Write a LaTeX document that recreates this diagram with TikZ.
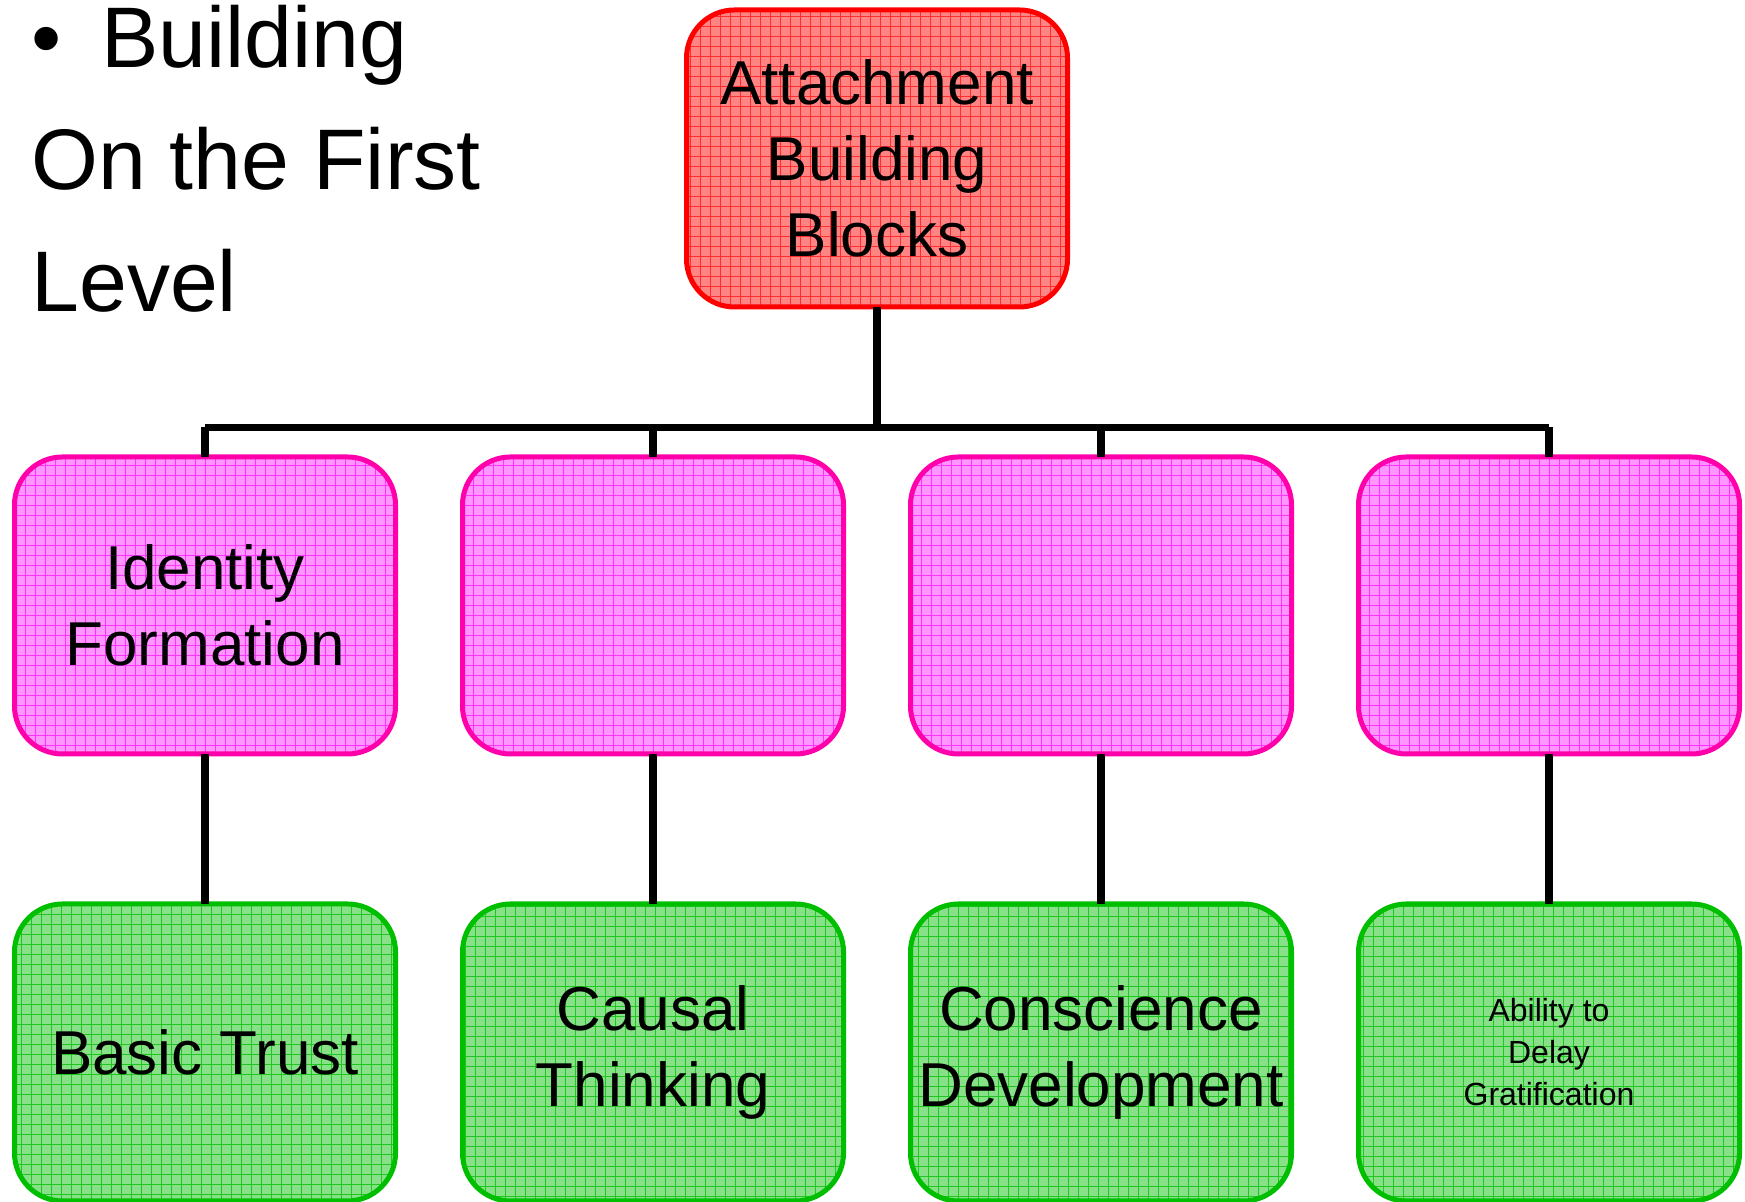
\documentclass[tikz,border=0pt]{standalone}
\usepackage{fontspec}
\setmainfont{Liberation Sans}
\usepackage{tikz}
\usetikzlibrary{shapes,arrows,fit,positioning}
\definecolor{topline}{RGB}{255,0,0}
\definecolor{topfill}{RGB}{255,132,132}
\definecolor{topgrid}{RGB}{255,45,45}
\definecolor{midline}{RGB}{255,0,170}
\definecolor{midfill}{RGB}{255,150,255}
\definecolor{midgrid}{RGB}{255,50,255}
\definecolor{lowline}{RGB}{0,190,0}
\definecolor{lowfill}{RGB}{136,224,136}
\definecolor{lowgrid}{RGB}{30,200,30}
\def\Top{Attachment\\ Building\\ Blocks}
\def\Delay{Ability to\\ Delay\\ Gratification}
\begin{document}
\begin{tikzpicture}[% styles for the whole chart
			every node/.style={
				align=center,		% so that "\\" breaks the line
				inner sep=0pt
			},
			box/.style={
				rectangle,rounded corners=24pt,line width=2.5pt,outer sep=0pt,
				minimum width=190.5pt,	% same size for every box
				minimum height=148.5pt,
				font=\fontsize{31pt}{38pt}\selectfont
			},
			gridfill/.style={path picture={
				\draw[#1,line width=0.4pt,step=5pt] (path picture bounding box.south west) grid (path picture bounding box.north east);}},
			topbox/.style={box,draw=topline,fill=topfill,gridfill=topgrid},
			midbox/.style={box,draw=midline,fill=midfill,gridfill=midgrid},
			lowbox/.style={box,draw=lowline,fill=lowfill,gridfill=lowgrid},
			link/.style={draw=black,line width=3.6pt}
		]
		\useasboundingbox (0,0) rectangle (872.5pt,601pt);
		\node[anchor=north west,align=left,font=\fontsize{43pt}{61pt}\selectfont](T) at (15.5pt,598.5pt){•\hspace{20pt}Building\\ On the First\\ Level};
		\node[topbox](A0) at (438.5pt,521.75pt){\Top};
		\node[midbox](M1)[below=75pt of A0,xshift=-336pt]{Identity\\ Formation};
		\node[midbox](M2)[right=33.5pt of M1]{};
		\node[midbox](M3)[right=33.5pt of M2]{};
		\node[midbox](M4)[right=33.5pt of M3]{};
		\node[lowbox](B1)[below=75pt of M1]{Basic Trust};
		\node[lowbox](B2)[below=75pt of M2]{Causal\\ Thinking};
		\node[lowbox](B3)[below=75pt of M3]{Conscience\\ Development};
		\node[lowbox,font=\fontsize{16pt}{21pt}\selectfont](B4)[below=75pt of M4]{\Delay};
		\coordinate[above=14.75pt of M1.north](bus);
		\path[link]
		(A0.south) -- (A0.south |- bus)
		(M1.north |- bus) -- (M4.north |- bus)
		;
		\foreach \i in {1,...,4}{
			\path[link] (M\i.north) -- (M\i.north |- bus);
			\path[link] (M\i.south) -- (B\i.north);
		}
	\end{tikzpicture}
\end{document}
